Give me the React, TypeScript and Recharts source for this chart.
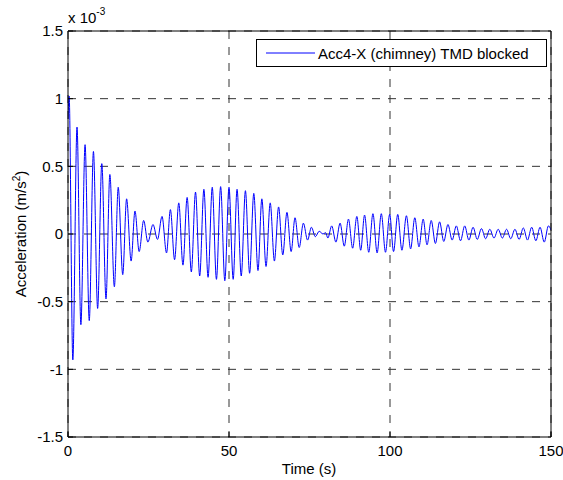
import React from 'react';
import { LineChart, Line, XAxis, YAxis, CartesianGrid, Legend, Label } from 'recharts';

// peaks and troughs, values in units of 1e-3 m/s^2
const times = [
  0, 0.35, 1.5, 2.8, 4.0, 5.3, 6.6, 7.9, 9.2, 10.5, 11.8, 13.0, 14.4, 15.6, 17.0, 18.2, 19.6, 20.8, 22.1, 23.5,
  24.8, 26.4, 27.8, 29.2, 30.6, 31.8, 33.1, 34.4, 35.7, 37.0, 38.3, 39.6, 40.9, 42.2, 43.5, 44.8, 46.1, 47.4, 48.7, 50.0,
  51.3, 52.5, 53.8, 55.1, 56.4, 57.7, 59.0, 60.2, 61.5, 62.8, 64.1, 65.4, 66.7, 68.0, 69.3, 70.5, 71.8, 73.1, 74.4, 75.6,
  76.8, 78.0, 79.2, 80.0, 80.7, 81.9, 83.2, 84.5, 85.8, 87.1, 88.4, 89.7, 90.9, 92.1, 93.4, 94.7, 96.0, 97.3, 98.6, 99.9,
  101.1, 102.4, 103.7, 105.1, 106.4, 107.7, 109.0, 110.3, 111.5, 112.8, 114.1, 115.4, 116.7, 118.0, 119.3, 120.6, 121.9, 123.2, 124.5, 125.8,
  127.1, 128.4, 129.7, 131.0, 132.3, 133.6, 134.9, 136.2, 137.5, 138.8, 140.1, 141.4, 142.7, 144.0, 145.3, 146.6, 147.9, 149.2, 150.0,
];
const accel = [
  0.85, 1.02, -0.93, 0.79, -0.67, 0.66, -0.64, 0.61, -0.55, 0.52, -0.48, 0.44, -0.39, 0.345, -0.3, 0.26, -0.2, 0.17, -0.13, 0.1,
  -0.06, 0.07, -0.04, 0.13, -0.14, 0.18, -0.19, 0.23, -0.23, 0.27, -0.28, 0.31, -0.31, 0.33, -0.32, 0.345, -0.335, 0.35, -0.345, 0.345,
  -0.335, 0.33, -0.31, 0.32, -0.29, 0.3, -0.27, 0.26, -0.24, 0.23, -0.2, 0.2, -0.155, 0.16, -0.13, 0.12, -0.1, 0.08, -0.045, 0.05,
  -0.02, 0.02, 0.0, 0.01, -0.03, 0.06, -0.06, 0.08, -0.09, 0.11, -0.105, 0.13, -0.12, 0.14, -0.135, 0.15, -0.14, 0.15, -0.135, 0.145,
  -0.13, 0.145, -0.12, 0.135, -0.11, 0.12, -0.095, 0.11, -0.08, 0.1, -0.07, 0.09, -0.055, 0.07, -0.045, 0.06, -0.05, 0.06, -0.045, 0.05,
  -0.04, 0.04, -0.035, 0.035, -0.03, 0.035, -0.03, 0.035, -0.035, 0.035, -0.04, 0.045, -0.045, 0.05, -0.05, 0.05, -0.06, 0.06, 0.03,
];
const xTicks = [0, 50, 100, 150];
const yTicks = [-1.5, -1, -0.5, 0, 0.5, 1, 1.5];
const seriesName = 'Acc4-X (chimney) TMD blocked';

const data = times.map((t, i) => ({ t, a: accel[i] }));

const FONT = '"Liberation Sans", Arial, Helvetica, sans-serif';
const tickStyle = { fill: '#000', fontSize: 15, fontFamily: FONT };

const renderLegend = () => (
  <div
    style={{
      boxSizing: 'border-box',
      width: 291,
      height: 28,
      border: '1px solid #000',
      background: '#fff',
      display: 'flex',
      alignItems: 'center',
      fontFamily: FONT,
      fontSize: 15,
      color: '#000',
    }}
  >
    <svg width={59} height={10} style={{ flex: 'none' }}>
      <line x1={9} y1={5} x2={58} y2={5} stroke="#0000ff" strokeWidth={1} />
    </svg>
    <span style={{ marginLeft: 2, whiteSpace: 'nowrap' }}>{seriesName}</span>
  </div>
);

const App: React.FC = () => {
  return (
    <div style={{ position: 'absolute', left: 0, top: 0, background: '#fff' }}>
      <LineChart width={563} height={480} data={data} margin={{ top: 30, right: 11, bottom: 0, left: 0 }}>
        <CartesianGrid stroke="#333" strokeDasharray="8 8" />
        <XAxis
          dataKey="t"
          type="number"
          domain={[0, 150]}
          ticks={xTicks}
          allowDataOverflow
          height={43}
          tick={tickStyle}
          tickSize={-5}
          tickMargin={13}
          tickLine={{ stroke: '#000' }}
          axisLine={{ stroke: '#000' }}
        >
          <Label
            content={() => (
              <text x={309} y={474} textAnchor="middle" fontFamily={FONT} fontSize={15} fill="#000">
                Time (s)
              </text>
            )}
          />
        </XAxis>
        <XAxis
          xAxisId="top"
          orientation="top"
          dataKey="t"
          type="number"
          domain={[0, 150]}
          ticks={xTicks}
          allowDataOverflow
          height={1}
          tick={false}
          tickSize={-5}
          tickLine={{ stroke: '#000' }}
          axisLine={{ stroke: '#000' }}
        >
          <Label
            content={() => (
              <text x={68} y={23} fontFamily={FONT} fontSize={15} fill="#000">
                x 10<tspan dy={-8} fontSize={10}>-3</tspan>
              </text>
            )}
          />
        </XAxis>
        <YAxis
          type="number"
          domain={[-1.5, 1.5]}
          ticks={yTicks}
          allowDataOverflow
          width={68}
          tick={tickStyle}
          tickSize={-5}
          tickMargin={10}
          tickLine={{ stroke: '#000' }}
          axisLine={{ stroke: '#000' }}
        >
          <Label
            content={() => (
              <text
                x={26}
                y={234}
                transform="rotate(-90, 26, 234)"
                textAnchor="middle"
                fontFamily={FONT}
                fontSize={15}
                fill="#000"
              >
                Acceleration (m/s<tspan dy={-6} fontSize={10}>2</tspan><tspan dy={6}>)</tspan>
              </text>
            )}
          />
        </YAxis>
        <YAxis
          yAxisId="right"
          orientation="right"
          type="number"
          domain={[-1.5, 1.5]}
          ticks={yTicks}
          allowDataOverflow
          width={1}
          tick={false}
          tickSize={-5}
          tickLine={{ stroke: '#000' }}
          axisLine={{ stroke: '#000' }}
        />
        <Legend
          content={renderLegend}
          layout="horizontal"
          verticalAlign="middle"
          align="center"
          wrapperStyle={{ top: 39, left: 256, width: 291, height: 28 }}
        />
        <Line
          type="monotone"
          dataKey="a"
          name={seriesName}
          stroke="#0000ff"
          strokeWidth={1}
          dot={false}
          activeDot={false}
          isAnimationActive={false}
        />
      </LineChart>
    </div>
  );
};

export default App;
